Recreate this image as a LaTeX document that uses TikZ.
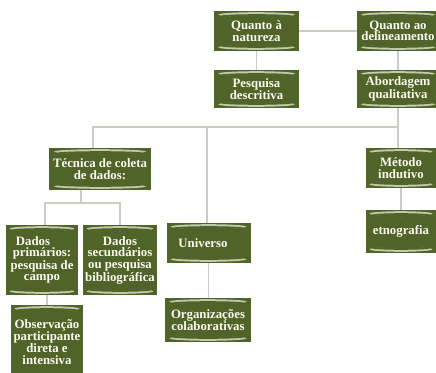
\documentclass[tikz,border=0pt]{standalone}
\usepackage{fontspec}
\setmainfont{Liberation Serif}
\usetikzlibrary{calc}
\definecolor{boxgreen}{RGB}{80,99,41}
\definecolor{linkgray}{RGB}{204,204,196}
\definecolor{gloss}{RGB}{222,230,205}
\definecolor{boxtext}{RGB}{252,250,240}
% one glossy lens: #1 = vertical offset from the edge, #2 = +1 for top, -1 for bottom
\newcommand{\glosslens}[2]{%
  \fill[gloss, opacity=.8] let \p1=(path picture bounding box.north west),
        \p2=(path picture bounding box.south east),
        \p3=({(\x1+\x2)/2}, {#2>0 ? \y1-#1 : \y2+#1}) in
        (\p3) ellipse [x radius={0.45*(\x2-\x1)}, y radius=2.4pt];
  \fill[boxgreen] let \p1=(path picture bounding box.north west),
        \p2=(path picture bounding box.south east),
        \p3=({(\x1+\x2)/2}, {#2>0 ? \y1-#1-1.1pt : \y2+#1+1.1pt}) in
        (\p3) ellipse [x radius={0.41*(\x2-\x1)}, y radius=1.5pt];
}
\begin{document}
\begin{tikzpicture}[x=1pt,y=-1pt,
  box/.style={fill=boxgreen, text=boxtext, align=center, inner sep=1pt,
    font=\bfseries\fontsize{12.8}{11.6}\selectfont,
    path picture={\glosslens{3.6pt}{1}\glosslens{3.6pt}{-1}}},
  link/.style={draw=linkgray, line width=1.3pt}]
\useasboundingbox (0,0) rectangle (436,372);
\clip (0,0) rectangle (436,372);

% nodes
\node[box, minimum width=85pt, minimum height=40pt] (nat)   at (256.5,31)  {Quanto à\\natureza};
\node[box, minimum width=82pt, minimum height=40pt] (del)   at (398,31)    {Quanto ao\\delineamento};
\node[box, minimum width=85pt, minimum height=38pt] (desc)  at (256.5,89)  {Pesquisa\\descritiva};
\node[box, minimum width=82pt, minimum height=38pt] (abord) at (398,89)    {Abordagem\\qualitativa};
\node[box, minimum width=102pt, minimum height=42pt] (tec)  at (100,169)   {Técnica de coleta\\de dados:};
\node[box, minimum width=70pt, minimum height=40pt] (met)   at (401,168)   {Método\\indutivo};
\node[box, minimum width=70pt, minimum height=43pt] (etn)   at (401,231.5) {etnografia};
\node[box, minimum width=72pt, minimum height=70pt] (prim)  at (42,260)    {Dados\hspace*{18pt}\\primários:\\pesquisa de\\campo};
\node[box, minimum width=74pt, minimum height=70pt] (sec)   at (120,260)   {Dados\\secundários\\ou pesquisa\\bibliográfica};
\node[box, minimum width=84pt, minimum height=40pt] (univ)  at (208.5,243) {Universo\hspace*{11pt}};
\node[box, minimum width=86pt, minimum height=44pt] (org)   at (208,320)   {Organizações\\colaborativas};
\node[box, minimum width=72pt, minimum height=74pt] (obs)   at (47,342)    {Observação\\participante\\direta e\\intensiva};

% junction points of the connectors
\coordinate (busL) at (93,127);
\coordinate (busU) at (207,127);
\coordinate (busR) at (398,127);
\coordinate (forkT) at (81,203);
\coordinate (forkL) at (45,203);
\coordinate (forkR) at (120,203);

% connectors
\draw[link] (nat) -- (del);
\draw[link] (nat) -- (desc);
\draw[link] (del) -- (abord);
\draw[link] (abord.south) -- (busR) -- (busL) -- (busL |- tec.north);
\draw[link] (busU) -- (busU |- univ.north);
\draw[link] (busR) -- (busR |- met.north);
\draw[link] (met) -- (etn);
\draw[link] (forkT |- tec.south) -- (forkT);
\draw[link] (forkL |- prim.north) -- (forkL) -- (forkR) -- (forkR |- sec.north);
\draw[link] (prim.south -| obs.north) -- (obs.north);
\draw[link] (univ.south) -- (univ.south |- org.north);
\end{tikzpicture}
\end{document}
